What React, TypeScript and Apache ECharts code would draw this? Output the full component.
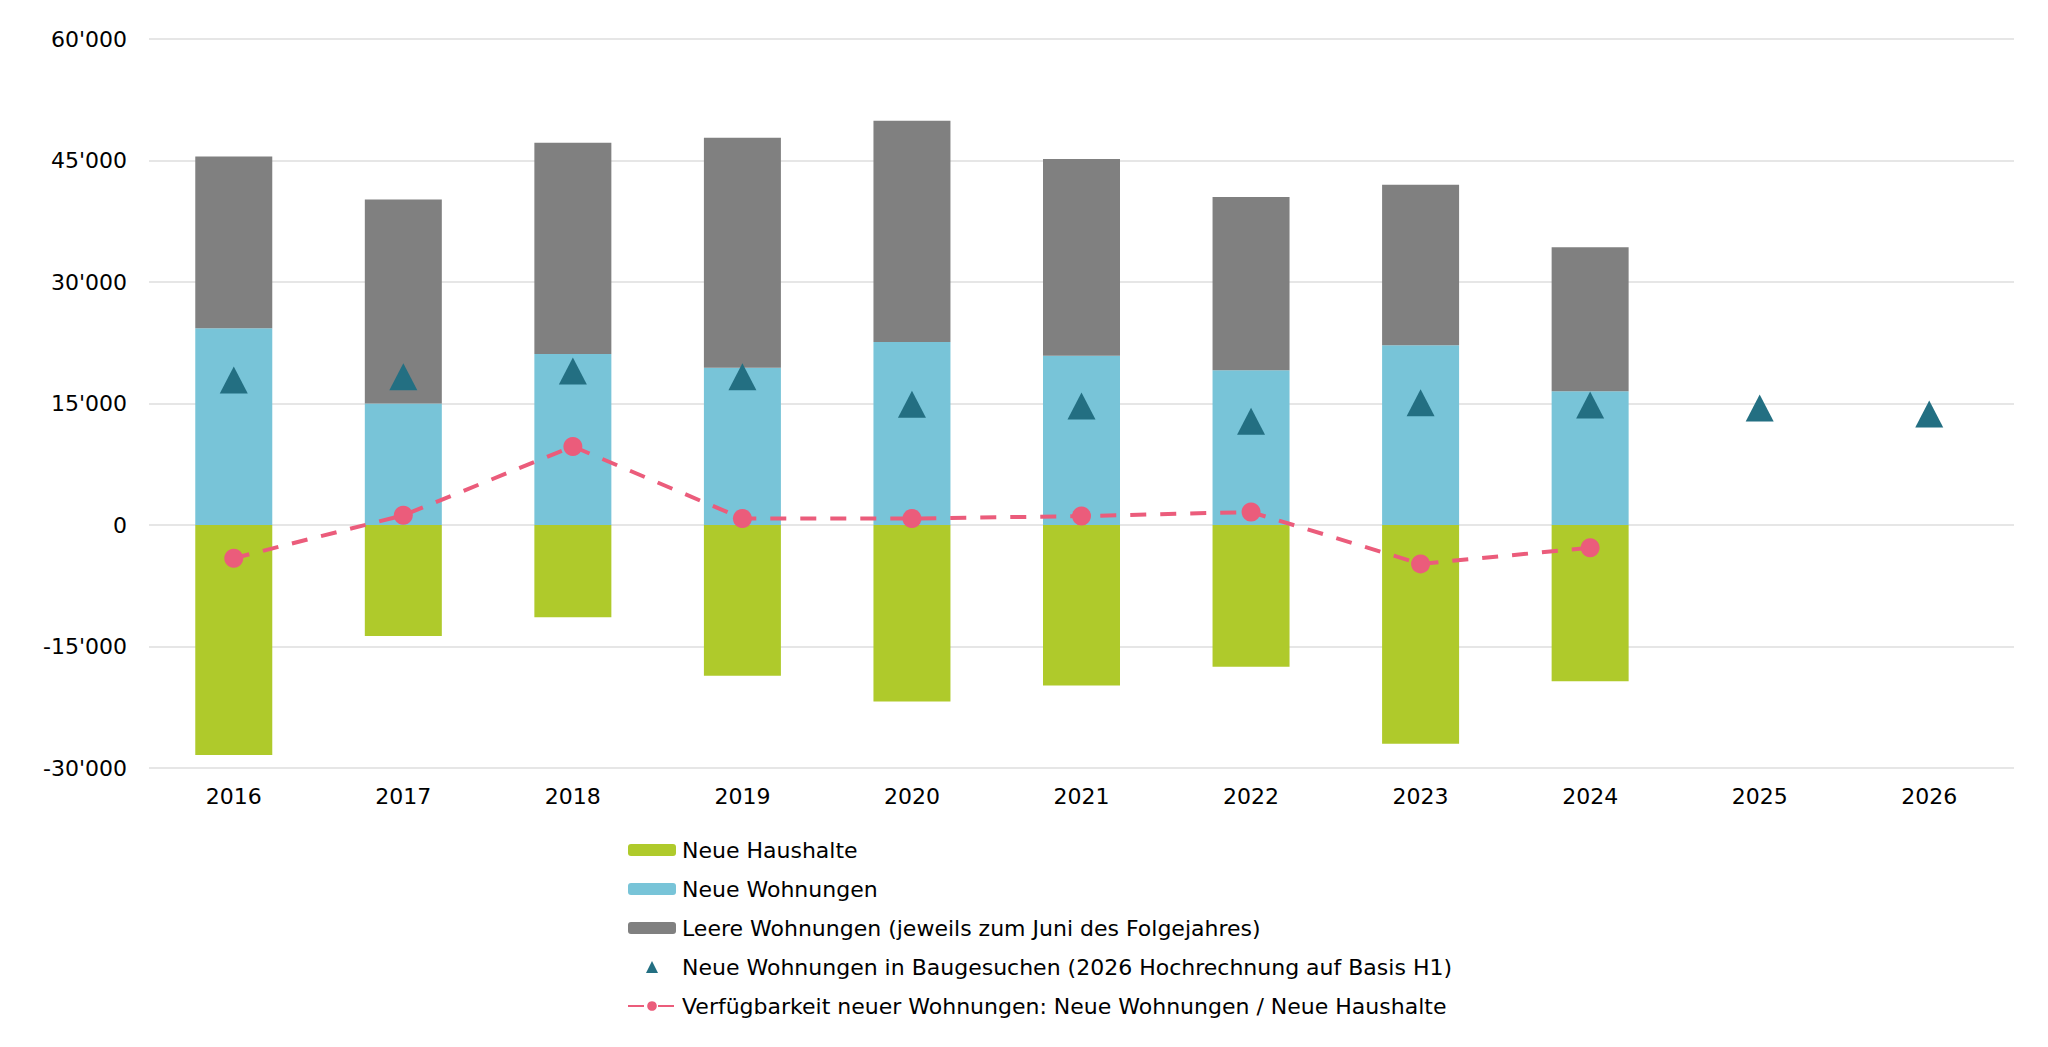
import React, { useEffect, useRef } from "react";
import * as echarts from "echarts";

const categories = ["2016", "2017", "2018", "2019", "2020", "2021", "2022", "2023", "2024", "2025", "2026"];
const neueHaushalte = [-28400, -13700, -11400, -18600, -21800, -19800, -17500, -27000, -19300, null, null];
const neueWohnungen = [24300, 15000, 21100, 19400, 22600, 20900, 19100, 22200, 16500, null, null];
const leereWohnungen = [21200, 25200, 26100, 28400, 27300, 24300, 21400, 19800, 17800, null, null];
const baugesuche = [17900, 18300, 19000, 18300, 14900, 14700, 12800, 15100, 14800, 14450, 13700];
const verfuegbarkeit = [-4100, 1200, 9700, 800, 800, 1100, 1600, -4800, -2800, null, null];

const seriesNames = [
  "Neue Haushalte",
  "Neue Wohnungen",
  "Leere Wohnungen (jeweils zum Juni des Folgejahres)",
  "Neue Wohnungen in Baugesuchen (2026 Hochrechnung auf Basis H1)",
  "Verfügbarkeit neuer Wohnungen: Neue Wohnungen / Neue Haushalte",
];

const FONT = "'DejaVu Sans', Verdana, sans-serif";

function fmt(v: number) {
  const s = Math.abs(v).toString().replace(/\B(?=(\d{3})+(?!\d))/g, "'");
  return (v < 0 ? "-" : "") + s;
}

export default function App() {
  const ref = useRef<HTMLDivElement>(null);
  useEffect(() => {
    if (!ref.current) return;
    const chart = echarts.init(ref.current, null, { renderer: "svg" });
    chart.setOption({
      animation: false,
      backgroundColor: "#ffffff",
      textStyle: { fontFamily: FONT },
      grid: { left: 149, right: 34, top: 39, bottom: 279, containLabel: false },
      legend: {
        orient: "vertical",
        left: 622,
        top: 834,
        itemWidth: 48,
        itemHeight: 12,
        itemGap: 17,
        symbolKeepAspect: true,
        textStyle: { fontSize: 22, color: "#000", fontFamily: FONT, lineHeight: 22, padding: [0, 0, 0, 1] },
        data: [
          { name: seriesNames[0] },
          { name: seriesNames[1] },
          { name: seriesNames[2] },
          { name: seriesNames[3], icon: "path://M6,0 L12,12 L0,12 Z" },
          { name: seriesNames[4] },
        ],
      },
      xAxis: {
        type: "category",
        data: categories,
        axisLine: { show: false },
        axisTick: { show: false },
        axisLabel: { fontSize: 22, color: "#000", fontFamily: FONT, margin: 17 },
      },
      yAxis: {
        type: "value",
        min: -30000,
        max: 60000,
        interval: 15000,
        axisLine: { show: false },
        axisTick: { show: false },
        splitLine: { lineStyle: { color: "#DEDEDE", width: 1.5 } },
        axisLabel: { fontSize: 22, color: "#000", fontFamily: FONT, margin: 22, formatter: (v: number) => fmt(v) },
      },
      series: [
        {
          name: seriesNames[0],
          type: "bar",
          stack: "a",
          barWidth: 77,
          data: neueHaushalte,
          itemStyle: { color: "#AFCA2B" },
        },
        {
          name: seriesNames[1],
          type: "bar",
          stack: "a",
          barWidth: 77,
          data: neueWohnungen,
          itemStyle: { color: "#78C4D8" },
        },
        {
          name: seriesNames[2],
          type: "bar",
          stack: "a",
          barWidth: 77,
          data: leereWohnungen,
          itemStyle: { color: "#808080" },
        },
        {
          name: seriesNames[4],
          type: "line",
          data: verfuegbarkeit,
          symbol: "circle",
          symbolSize: 19,
          connectNulls: false,
          itemStyle: { color: "#EB5C7B", opacity: 1 },
          lineStyle: { color: "#EB5C7B", width: 4, type: [16, 14] },
          z: 3,
        },
        {
          name: seriesNames[3],
          type: "scatter",
          data: baugesuche,
          symbol: "triangle",
          symbolSize: [28, 27],
          itemStyle: { color: "#236F82", opacity: 1 },
          z: 4,
        },
      ],
    });
    return () => chart.dispose();
  }, []);
  return <div ref={ref} style={{ position: "fixed", left: 0, top: 0, width: 2048, height: 1047 }} />;
}
